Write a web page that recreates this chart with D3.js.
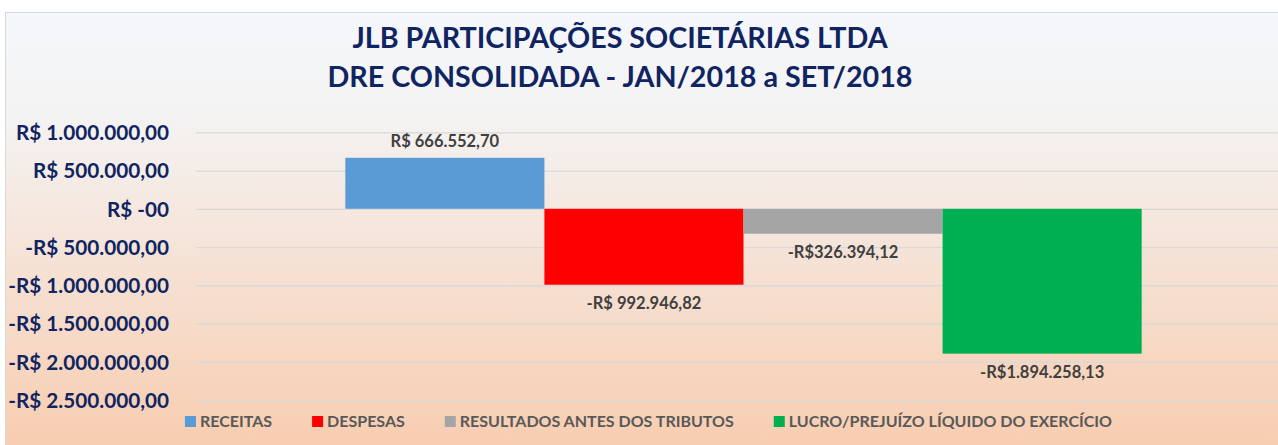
<!DOCTYPE html>
<html><head><meta charset="utf-8">
<script src="https://cdn.jsdelivr.net/npm/d3@7"></script>
<style>
html,body{margin:0;padding:0;background:#fff;}
svg{display:block;font-family:Lato,"Open Sans",sans-serif;}
</style></head>
<body>
<svg id="chart" width="1278" height="445"></svg>
<script>
const titleLines = ["JLB PARTICIPAÇÕES SOCIETÁRIAS LTDA", "DRE CONSOLIDADA - JAN/2018 a SET/2018"];
const seriesNames = ["RECEITAS", "DESPESAS", "RESULTADOS ANTES DOS TRIBUTOS", "LUCRO/PREJUÍZO LÍQUIDO DO EXERCÍCIO"];
const seriesValues = [666552.70, -992946.82, -326394.12, -1894258.13];
const valueLabels = ["R$ 666.552,70", "-R$ 992.946,82", "-R$326.394,12", "-R$1.894.258,13"];
const seriesColors = ["#5b9bd5", "#ff0000", "#a5a5a5", "#00b050"];
const tickValues = [1000000, 500000, 0, -500000, -1000000, -1500000, -2000000, -2500000];
const tickLabels = ["R$ 1.000.000,00", "R$ 500.000,00", "R$ -00", "-R$ 500.000,00", "-R$ 1.000.000,00", "-R$ 1.500.000,00", "-R$ 2.000.000,00", "-R$ 2.500.000,00"];

const svg = d3.select("#chart");

// chart area background (extends past the right edge like the original crop)
const defs = svg.append("defs");
const grad = defs.append("linearGradient").attr("id", "bg").attr("x1", 0).attr("y1", 0).attr("x2", 0).attr("y2", 1);
grad.append("stop").attr("offset", "0%").attr("stop-color", "#f4f7fb");
grad.append("stop").attr("offset", "22%").attr("stop-color", "#f4f3f3");
grad.append("stop").attr("offset", "100%").attr("stop-color", "#f8caab");

svg.append("rect").attr("x", 5.5).attr("y", 12.5).attr("width", 1300).attr("height", 460)
  .attr("fill", "url(#bg)").attr("stroke", "#d9d9d9").attr("stroke-width", 1);

// title
const title = svg.append("text").attr("text-anchor", "middle").attr("fill", "#0f2461")
  .attr("font-weight", 700).attr("font-size", 28.7);
titleLines.forEach((t, i) => {
  title.append("tspan").attr("x", 620).attr("y", 48 + i * 39).text(t);
});

// scales
const plot = {left: 196, right: 1291};
const y = d3.scaleLinear().domain([-2500000, 1000000]).range([400, 132.3]);
const x = d3.scaleBand().domain(seriesNames).range([plot.left, plot.right]).paddingInner(0).paddingOuter(0.75);

// gridlines
const grid = svg.append("g").attr("class", "grid")
  .attr("transform", `translate(${plot.left},0)`)
  .call(d3.axisLeft(y).tickValues(tickValues).tickSize(-(plot.right - plot.left)).tickFormat(""));
grid.select(".domain").remove();
grid.selectAll(".tick line").attr("stroke", "#d9d9d9").attr("stroke-width", 1.3);

// y axis labels
const yAxis = svg.append("g").attr("transform", `translate(169,0)`)
  .call(d3.axisLeft(y).tickValues(tickValues).tickSize(0).tickPadding(0)
    .tickFormat((d, i) => tickLabels[i]));
yAxis.select(".domain").remove();
yAxis.selectAll(".tick text").attr("fill", "#0f2461").attr("font-weight", 700)
  .attr("font-size", 20.7).attr("font-family", "Lato, 'Open Sans', sans-serif").attr("dy", "0.36em");

// bars
const data = seriesNames.map((n, i) => ({name: n, value: seriesValues[i], label: valueLabels[i], color: seriesColors[i]}));
svg.append("g").selectAll("rect").data(data).join("rect")
  .attr("x", d => x(d.name))
  .attr("width", x.bandwidth())
  .attr("y", d => y(Math.max(0, d.value)))
  .attr("height", d => Math.abs(y(d.value) - y(0)))
  .attr("fill", d => d.color);

// value labels
svg.append("g").selectAll("text").data(data).join("text")
  .attr("x", d => x(d.name) + x.bandwidth() / 2)
  .attr("y", d => d.value >= 0 ? y(d.value) - 11 : y(d.value) + 24)
  .attr("text-anchor", "middle").attr("fill", "#404040")
  .attr("font-weight", 700).attr("font-size", 16.5)
  .text(d => d.label);

// legend
const legend = svg.append("g");
const items = legend.selectAll("g").data(data).join("g");
items.append("rect").attr("width", 11).attr("height", 11).attr("y", 416).attr("fill", d => d.color);
items.append("text").attr("y", 426.5).attr("fill", "#595959").attr("font-weight", 700)
  .attr("font-size", 16).text(d => d.name);
const widths = [];
items.each(function() {
  widths.push(d3.select(this).select("text").node().getComputedTextLength());
});
const gap = 40, sq = 11, sqGap = 4;
const total = d3.sum(widths) + data.length * (sq + sqGap) + gap * (data.length - 1);
let cx = 648.5 - total / 2;
items.each(function(d, i) {
  const g = d3.select(this);
  g.select("rect").attr("x", cx);
  g.select("text").attr("x", cx + sq + sqGap);
  cx += sq + sqGap + widths[i] + gap;
});
</script>
</body></html>
